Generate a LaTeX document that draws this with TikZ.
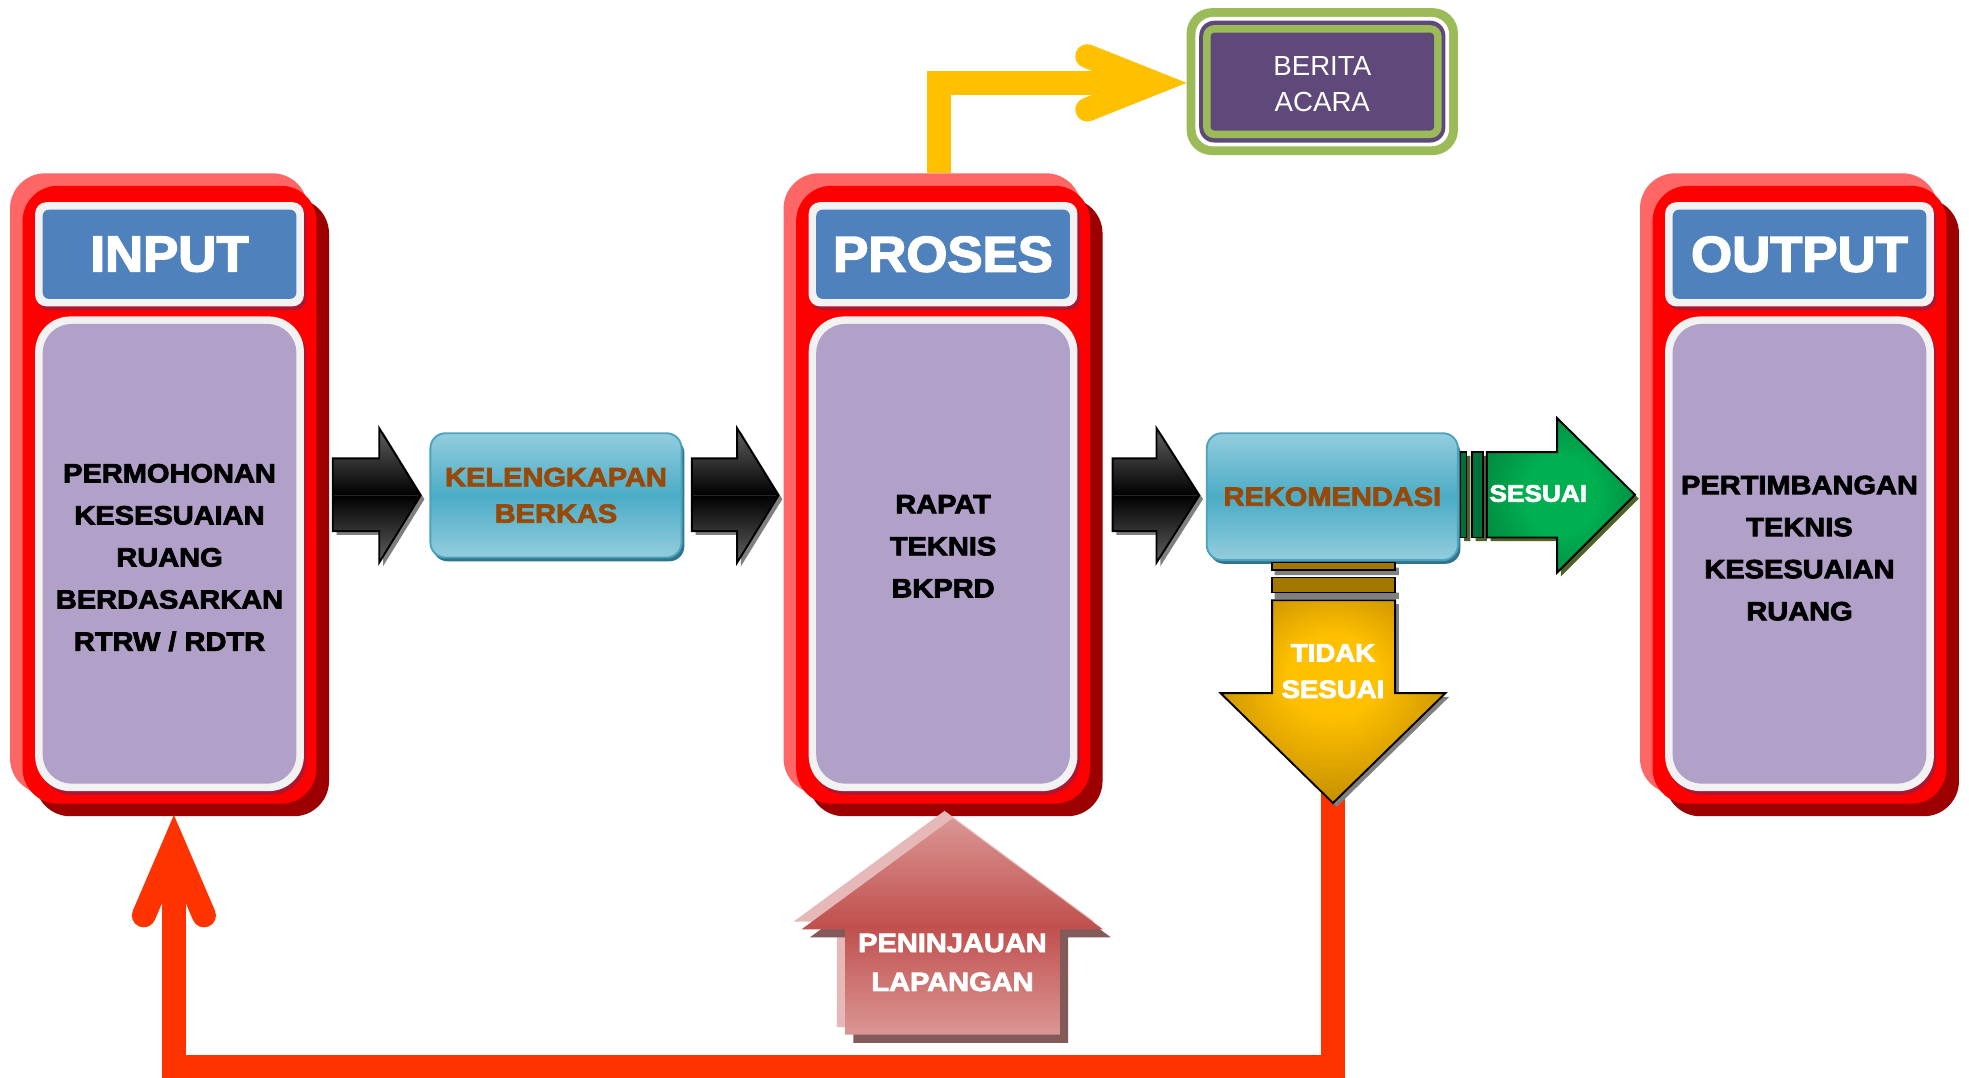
\documentclass[tikz,border=0pt]{standalone}
\usepackage{fontspec}
\setmainfont{Liberation Sans}
\newfontfamily\heavyfont{Liberation Sans}[BoldFeatures={FakeBold=3,FakeStretch=1.1}]
\newfontfamily\titlefont{Liberation Sans}[BoldFeatures={FakeBold=3,FakeStretch=1.05}]
\usetikzlibrary{calc}

\definecolor{panelred}{HTML}{FF0000}
\definecolor{panellight}{HTML}{FF6666}
\definecolor{paneldark}{HTML}{9C0000}
\definecolor{framecrimson}{HTML}{B01530}
\definecolor{frameedge}{HTML}{F2F2F2}
\definecolor{hdrblue}{HTML}{4F81BD}
\definecolor{bodypurple}{HTML}{B1A0C7}
\definecolor{tealtop}{HTML}{93CDDD}
\definecolor{tealmid}{HTML}{4BACC6}
\definecolor{tealedge}{HTML}{4BA3BD}
\definecolor{tealshadow}{HTML}{31748B}
\definecolor{rustbrown}{HTML}{984807}
\definecolor{greenin}{HTML}{00B050}
\definecolor{greenout}{HTML}{006B33}
\definecolor{greenbar}{HTML}{00703A}
\definecolor{oliveshadow}{HTML}{4F6228}
\definecolor{goldin}{HTML}{FFC000}
\definecolor{goldout}{HTML}{9A6C00}
\definecolor{goldbar}{HTML}{A37800}
\definecolor{yellowline}{HTML}{FFC000}
\definecolor{loopred}{HTML}{FF3300}
\definecolor{leafgreen}{HTML}{9BBB59}
\definecolor{plum}{HTML}{5F497A}
\definecolor{roselight}{HTML}{E6B9B8}
\definecolor{rosetop}{HTML}{DA9694}
\definecolor{rosemid}{HTML}{C0504D}
\definecolor{rosedark}{HTML}{825A5A}
\definecolor{arrowshadow}{HTML}{808080}

\pgfdeclareradialshading{greenglow}{\pgfpoint{0bp}{0bp}}{color(0bp)=(greenin); color(12bp)=(greenin); color(42bp)=(greenout); color(50bp)=(greenout)}
\pgfdeclareradialshading{goldglow}{\pgfpoint{0bp}{8bp}}{color(0bp)=(goldin); color(10bp)=(goldin); color(42bp)=(goldout); color(50bp)=(goldout)}

\tikzset{
  titletext/.style={font=\titlefont\bfseries\fontsize{40}{40}\selectfont, text=white},
  bodytext/.style={font=\heavyfont\bfseries\fontsize{21}{33.5}\selectfont, text=black, align=center},
  boxtext/.style={font=\heavyfont\bfseries\fontsize{21}{29}\selectfont, text=rustbrown, align=center},
  arrowtext/.style={font=\heavyfont\bfseries\fontsize{20}{29}\selectfont, text=white, align=center},
  tealbox/.style={rounded corners=12, draw=tealedge, line width=1.5,
    top color=tealtop, bottom color=tealtop, middle color=tealmid,
    minimum width=200, minimum height=99, inner sep=0, boxtext},
  blackblock/.style={draw=black, line width=1.5, top color=black!62, bottom color=black!62, middle color=black},
  loopline/.style={loopred, line width=19, line join=miter},
  loophead/.style={loopred, line width=19, line cap=round, line join=miter},
  yellowshaft/.style={yellowline, line width=19, line join=miter},
  yellowhead/.style={yellowline, line width=19, line cap=round, line join=miter},
}

% one red panel: name, centre x, title, body text, body text centre y
\newcommand\drawpanel[5]{%
  \begin{scope}[shift={(#2,0)}]
    \fill[panellight, rounded corners=28] (-127,138) rectangle (110,632);
    \fill[paneldark, rounded corners=28] (-107,158) rectangle (127,650);
    \node[fill=panelred, rounded corners=28, minimum width=234, minimum height=492, inner sep=0] (#1) at (0,394) {};
    \fill[framecrimson, rounded corners=9] (-105,164) rectangle (109,247);
    \fill[frameedge, rounded corners=9] (-107,161) rectangle (107,244);
    \node[fill=hdrblue, rounded corners=5, minimum width=202, minimum height=71, inner sep=0, titletext] (#1-title) at (0,202.5) {#3};
    \fill[framecrimson, rounded corners=28] (-105,255) rectangle (109,633);
    \fill[frameedge, rounded corners=28] (-107,252) rectangle (107,630);
    \node[fill=bodypurple, rounded corners=23, minimum width=202, minimum height=366, inner sep=0] (#1-body) at (0,441) {};
    \node[bodytext] (#1-text) at (0,#5) {#4};
  \end{scope}}

% black block arrow: shaft start, head start, tip
\newcommand\blockarrow[3]{%
  \fill[arrowshadow, shift={(3,3)}] (#1,365) -- (#2,365) -- (#2,341) -- (#3,394.5) -- (#2,448) -- (#2,423) -- (#1,423) -- cycle;
  \path[blackblock] (#1,365) -- (#2,365) -- (#2,341) -- (#3,394.5) -- (#2,448) -- (#2,423) -- (#1,423) -- cycle;
  \draw[black!85, line width=0.8] (#1+1,394.5) -- (#3-2,394.5);}

\begin{document}
\begin{tikzpicture}[x=1pt, y=-1pt]
\useasboundingbox (0,0) rectangle (1568,858);
\fill[white] (0,0) rectangle (1568,858);

% panels
\drawpanel{input}{135}{INPUT}{PERMOHONAN\\KESESUAIAN\\RUANG\\BERDASARKAN\\RTRW / RDTR}{444}
\drawpanel{proses}{751}{PROSES}{RAPAT\\TEKNIS\\BKPRD}{435}
\drawpanel{output}{1433}{OUTPUT}{PERTIMBANGAN\\TEKNIS\\KESESUAIAN\\RUANG}{436.5}

% feedback loop from the rejection arrow back to the input
\coordinate (tidakTip) at (1061.5,639.5);
\coordinate (inputFoot) at (138.5,649);
\coordinate (loopLow) at (0,849.5);
\draw[loopline] ($(tidakTip)+(0,-8)$) -- (tidakTip |- loopLow) -- (inputFoot |- loopLow) -- ($(inputFoot)+(0,30)$);
\draw[loophead] ($(inputFoot)+(-24,80)$) -- ($(inputFoot)+(0,24.1)$) -- ($(inputFoot)+(24,80)$);

% minutes box
\node[fill=leafgreen, rounded corners=20, minimum width=216, minimum height=117, inner sep=0] (berita) at (1053,65) {};
\fill[white, rounded corners=14] (952,13.5) rectangle (1154,116.5);
\fill[plum, rounded corners=12] (955,16.5) rectangle (1151,113.5);
\fill[leafgreen, rounded corners=9] (958,20) rectangle (1148,110);
\fill[plum, rounded corners=3] (964,26) rectangle (1142,104);
\node[font=\fontsize{22}{29}\selectfont, text=white, align=center] (beritaText) at (1053,67) {BERITA\\ACARA};

% connector from the process panel to the minutes box
\coordinate (prosesTop) at (748,138);
\draw[yellowshaft] (prosesTop) |- ($(berita.west)+(-25.5,1)$);
\draw[yellowhead] ($(berita.west)+(-79,-20.3)$) -- ($(berita.west)+(-25.5,1)$) -- ($(berita.west)+(-79,22.3)$);

% black block arrows
\blockarrow{265}{302}{335}
\blockarrow{551}{587}{620}
\blockarrow{886}{921}{955}

% document check and recommendation boxes
\fill[tealshadow, rounded corners=12] (344.5,349) rectangle (545,447);
\node[tealbox] (kelengkapan) at (442.75,394.5) {KELENGKAPAN\\BERKAS};
\fill[tealshadow, rounded corners=12] (963,349) rectangle (1163,449);
\node[tealbox, minimum height=101] (rekomendasi) at (1061,395.5) {REKOMENDASI};

% approval arrow
\begin{scope}[shift={(3,3)}]
  \fill[oliveshadow] (1163,360) rectangle (1168,428) (1172,360) rectangle (1181,428);
  \fill[oliveshadow] (1184,360) -- (1240,360) -- (1240,333) -- (1302,394) -- (1240,456) -- (1240,428) -- (1184,428) -- cycle;
\end{scope}
\filldraw[fill=greenbar, draw=black, line width=1.2] (1163,360) rectangle (1168,428) (1172,360) rectangle (1181,428);
\path[draw=black, line width=1.5, shading=greenglow] (1184,360) -- (1240,360) -- (1240,333) -- (1302,394) -- (1240,456) -- (1240,428) -- (1184,428) -- cycle;
\node[arrowtext, font=\heavyfont\bfseries\fontsize{19}{19}\selectfont] (sesuai) at (1225,393) {SESUAI};

% rejection arrow
\fill[arrowshadow] (1015,452) rectangle (1114,458) (1015,472) rectangle (1114,477);
\fill[arrowshadow, shift={(3,3)}] (1013,478) -- (1111,478) -- (1111,552) -- (1151,552) -- (1061.5,639.5) -- (972,552) -- (1013,552) -- cycle;
\filldraw[fill=goldbar, draw=black, line width=1.2] (1013,448) rectangle (1111,454) (1013,460) rectangle (1111,472);
\path[draw=black, line width=1.5, shading=goldglow] (1013,478) -- (1111,478) -- (1111,552) -- (1151,552) -- (tidakTip) -- (972,552) -- (1013,552) -- cycle;
\node[arrowtext] (tidak) at (1061.5,534.5) {TIDAK\\SESUAI};

% field survey arrow
\fill[roselight, shift={(-6.5,-6)}] (758.7,651.7) -- (878.2,740) -- (844,740) -- (844,824) -- (673,824) -- (673,740) -- (638.4,740) -- cycle;
\fill[rosedark, shift={(6.5,6.5)}] (758.7,651.7) -- (878.2,740) -- (844,740) -- (844,824) -- (673,824) -- (673,740) -- (638.4,740) -- cycle;
\shade[top color=rosetop, bottom color=rosetop, middle color=rosemid] (758.7,651.7) -- (878.2,740) -- (844,740) -- (844,824) -- (673,824) -- (673,740) -- (638.4,740) -- cycle;
\node[arrowtext, font=\heavyfont\bfseries\fontsize{21}{31}\selectfont] (peninjauan) at (758.5,766.5) {PENINJAUAN\\LAPANGAN};
\end{tikzpicture}
\end{document}
